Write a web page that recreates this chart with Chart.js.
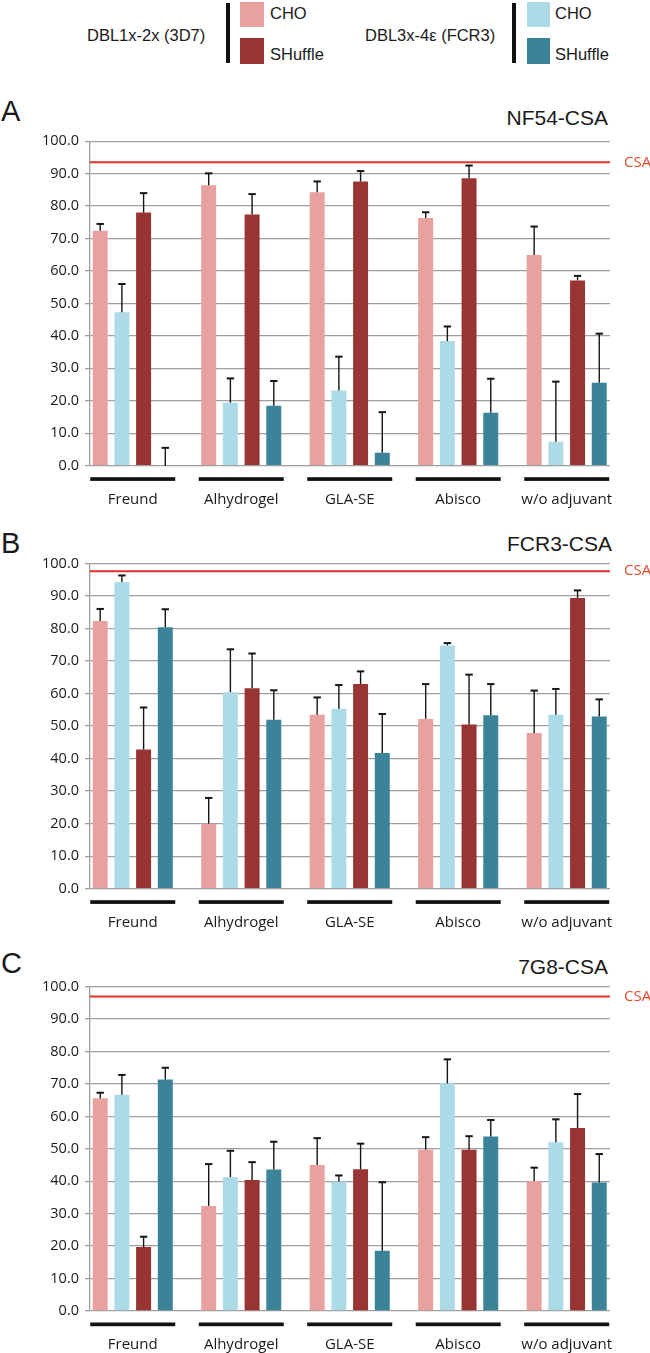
<!DOCTYPE html>
<html><head><meta charset="utf-8">
<script src="https://cdn.jsdelivr.net/npm/chart.js@4.4.1/dist/chart.umd.min.js"></script>
<style>
body{margin:0;width:650px;height:1353px;position:relative;background:#fff;overflow:hidden;font-family:"Liberation Sans",Arial,sans-serif;color:#1a1a1a;}
.abs{position:absolute;white-space:nowrap;line-height:20px;}
.leg{font-size:16.5px;}
.vbar{position:absolute;background:#111;width:4px;}
.box{position:absolute;}
.letter{position:absolute;font-size:29px;line-height:32px;}
.title{position:absolute;font-size:21px;line-height:24px;text-align:right;}
canvas{position:absolute;left:0;}
</style></head><body>

<div class="abs leg" style="left:87px;top:25px;">DBL1x-2x (3D7)</div>
<div class="vbar" style="left:226px;top:3px;height:60px;"></div>
<div class="box" style="left:240px;top:2px;width:24px;height:25px;background:#E8A19F;"></div>
<div class="box" style="left:240px;top:38px;width:24px;height:26px;background:#983431;"></div>
<div class="abs leg" style="left:270px;top:3px;">CHO</div>
<div class="abs leg" style="left:270px;top:44px;">SHuffle</div>

<div class="abs leg" style="left:365px;top:25px;">DBL3x-4ε (FCR3)</div>
<div class="vbar" style="left:512px;top:3px;height:60px;"></div>
<div class="box" style="left:527px;top:2px;width:23px;height:25px;background:#ADDAE7;"></div>
<div class="box" style="left:527px;top:38px;width:23px;height:26px;background:#3A8399;"></div>
<div class="abs leg" style="left:555px;top:3px;">CHO</div>
<div class="abs leg" style="left:555px;top:44px;">SHuffle</div>

<div class="letter" style="left:1px;top:95px;">A</div>
<div class="title" style="right:42px;top:106px;">NF54-CSA</div>
<div class="letter" style="left:1px;top:527px;">B</div>
<div class="title" style="right:38px;top:532px;">FCR3-CSA</div>
<div class="letter" style="left:1px;top:947px;">C</div>
<div class="title" style="right:42px;top:955px;">7G8-CSA</div>

<canvas id="cA" width="650" height="390" style="top:125px;"></canvas>
<canvas id="cB" width="650" height="390" style="top:547px;"></canvas>
<canvas id="cC" width="650" height="390" style="top:963px;"></canvas>

<script>
const categories = ["Freund", "Alhydrogel", "GLA-SE", "Abisco", "w/o adjuvant"];
const seriesNames = ["CHO (3D7)", "CHO (FCR3)", "SHuffle (3D7)", "SHuffle (FCR3)"];
const seriesColors = ["#E8A19F", "#ADDAE7", "#983431", "#3A8399"];
const yTicks = [0, 10, 20, 30, 40, 50, 60, 70, 80, 90, 100];

// Panel A: NF54-CSA
const aCho3D7 = [72.4, 86.4, 84.3, 76.3, 64.9];
const aChoFCR3 = [47.3, 19.4, 23.2, 38.4, 7.4];
const aShu3D7 = [78.0, 77.4, 87.6, 88.6, 57.1];
const aShuFCR3 = [0.0, 18.5, 4.0, 16.3, 25.6];
const aErrCho3D7 = [2.1, 3.7, 3.3, 1.8, 8.8];
const aErrChoFCR3 = [8.7, 7.5, 10.4, 4.5, 18.5];
const aErrShu3D7 = [6.0, 6.3, 3.2, 3.9, 1.4];
const aErrShuFCR3 = [5.5, 7.6, 12.5, 10.5, 15.1];
const aCSA = 93.5;

// Panel B: FCR3-CSA
const bCho3D7 = [82.3, 20.0, 53.5, 52.2, 47.9];
const bChoFCR3 = [94.3, 60.4, 55.3, 74.8, 53.5];
const bShu3D7 = [42.8, 61.6, 62.9, 50.5, 89.4];
const bShuFCR3 = [80.4, 51.9, 41.7, 53.3, 52.9];
const bErrCho3D7 = [3.7, 7.9, 5.3, 10.7, 13.0];
const bErrChoFCR3 = [2.0, 13.2, 7.3, 0.7, 7.9];
const bErrShu3D7 = [12.9, 10.7, 3.9, 15.3, 2.3];
const bErrShuFCR3 = [5.5, 9.1, 12.0, 9.6, 5.3];
const bCSA = 97.6;

// Panel C: 7G8-CSA
const cCho3D7 = [65.6, 32.4, 45.0, 49.7, 40.1];
const cChoFCR3 = [66.7, 41.3, 39.9, 70.2, 52.0];
const cShu3D7 = [19.7, 40.4, 43.7, 49.7, 56.4];
const cShuFCR3 = [71.4, 43.6, 18.6, 53.8, 39.6];
const cErrCho3D7 = [1.7, 12.9, 8.3, 3.9, 4.1];
const cErrChoFCR3 = [6.1, 8.1, 1.9, 7.4, 7.1];
const cErrShu3D7 = [3.2, 5.5, 7.9, 4.2, 10.5];
const cErrShuFCR3 = [3.6, 8.6, 21.1, 5.1, 8.8];
const cCSA = 97.0;

const extras = {
  id: 'extras',
  afterDatasetsDraw(chart) {
    const ctx = chart.ctx, ys = chart.scales.y, xs = chart.scales.x, area = chart.chartArea;
    ctx.save();
    // error bars
    chart.data.datasets.forEach((ds, k) => {
      const meta = chart.getDatasetMeta(k);
      meta.data.forEach((bar, i) => {
        const v = ds.data[i].y, e = ds.errors[i];
        const y0 = ys.getPixelForValue(v), y1 = ys.getPixelForValue(v + e);
        ctx.strokeStyle = '#151515';
        ctx.lineWidth = 1.4;
        ctx.beginPath(); ctx.moveTo(bar.x, y0); ctx.lineTo(bar.x, y1); ctx.stroke();
        ctx.lineWidth = 2;
        ctx.beginPath(); ctx.moveTo(bar.x - 3.7, y1); ctx.lineTo(bar.x + 3.7, y1); ctx.stroke();
      });
    });
    // CSA reference line
    const csa = chart.options.plugins.extras.csa;
    const yc = ys.getPixelForValue(csa);
    ctx.strokeStyle = '#E3302A';
    ctx.lineWidth = 2;
    ctx.beginPath(); ctx.moveTo(area.left, yc); ctx.lineTo(area.right, yc); ctx.stroke();
    ctx.fillStyle = '#EA4A2C';
    ctx.font = '15px "Open Sans"';
    ctx.textBaseline = 'middle';
    ctx.textAlign = 'left';
    ctx.fillText('CSA', 624, yc);
    // group underline bars
    ctx.fillStyle = '#111';
    categories.forEach((c, i) => {
      const cx = xs.getPixelForValue(i);
      ctx.fillRect(cx - 42.5, area.bottom + 11.5, 85, 3.7);
    });
    ctx.restore();
  }
};

function makePanel(id, canvasTop, chartTop, chartBottom, height, series, errs, csa) {
  const datasets = series.map((s, k) => ({
    label: seriesNames[k],
    data: s.map((v, i) => ({ x: i, y: v })),
    errors: errs[k],
    backgroundColor: seriesColors[k],
    borderWidth: 0,
    categoryPercentage: 0.8,
    barPercentage: 0.69
  }));
  new Chart(document.getElementById(id), {
    type: 'bar',
    data: { datasets },
    options: {
      responsive: false,
      animation: false,
      layout: { padding: { left: 0, right: 40, top: chartTop - canvasTop, bottom: 0 } },
      plugins: { legend: { display: false }, tooltip: { enabled: false }, extras: { csa } },
      scales: {
        x: {
          type: 'linear', min: -0.394, max: 4.399, offset: false,
          grid: { display: false }, border: { display: false },
          afterBuildTicks: s => { s.ticks = categories.map((c, i) => ({ value: i })); },
          afterFit: s => { s.height = height - (chartBottom - canvasTop); },
          ticks: {
            callback: v => categories[v], autoSkip: false, maxRotation: 0,
            font: { family: 'Open Sans', size: 15 }, color: '#1a1a1a', padding: 17
          }
        },
        y: {
          min: 0, max: 100,
          afterFit: s => { s.width = 90; },
          afterBuildTicks: s => { s.ticks = yTicks.map(v => ({ value: v })); },
          ticks: {
            callback: v => v.toFixed(1),
            font: { family: 'Open Sans', size: 14.5 }, color: '#1a1a1a', padding: 6
          },
          grid: { color: '#9E9E9E', lineWidth: 1.3, tickLength: 5 },
          border: { color: '#9E9E9E', width: 1.3 }
        }
      }
    },
    plugins: [extras]
  });
}

makePanel('cA', 125, 141.2, 465.7, 390,
  [aCho3D7, aChoFCR3, aShu3D7, aShuFCR3],
  [aErrCho3D7, aErrChoFCR3, aErrShu3D7, aErrShuFCR3], aCSA);
makePanel('cB', 547, 563.4, 888.7, 390,
  [bCho3D7, bChoFCR3, bShu3D7, bShuFCR3],
  [bErrCho3D7, bErrChoFCR3, bErrShu3D7, bErrShuFCR3], bCSA);
makePanel('cC', 963, 986.7, 1311, 390,
  [cCho3D7, cChoFCR3, cShu3D7, cShuFCR3],
  [cErrCho3D7, cErrChoFCR3, cErrShu3D7, cErrShuFCR3], cCSA);
</script>
</body></html>
